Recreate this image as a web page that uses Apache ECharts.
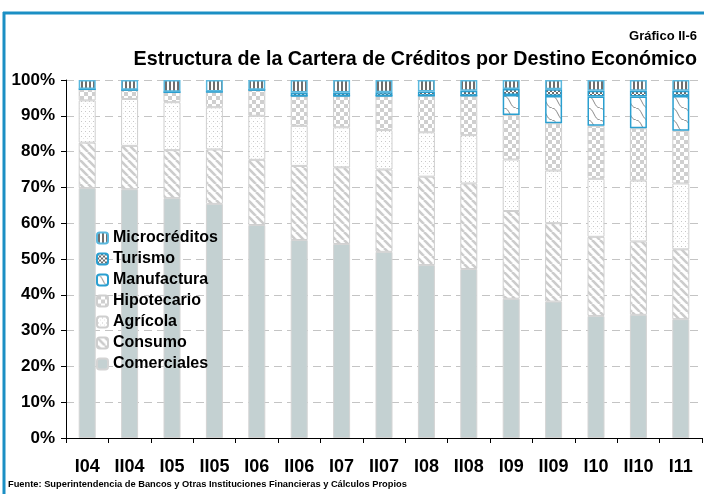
<!DOCTYPE html>
<html>
<head>
<meta charset="utf-8">
<script src="https://cdn.jsdelivr.net/npm/echarts@6/dist/echarts.min.js"></script>
<style>
  html, body { margin: 0; padding: 0; background: #ffffff; }
  #chart { width: 704px; height: 494px; }
</style>
</head>
<body>
<div id="chart"></div>
<script>
var periodos = ['I04', 'II04', 'I05', 'II05', 'I06', 'II06', 'I07', 'II07', 'I08', 'II08', 'I09', 'II09', 'I10', 'II10', 'I11'];
var yTicks = [0, 10, 20, 30, 40, 50, 60, 70, 80, 90, 100];

var comerciales   = [69.8, 69.5, 67.0, 65.4, 59.5, 55.3, 54.2, 52.0, 48.3, 47.2, 38.9, 38.1, 34.1, 34.4, 33.2];
var consumo       = [12.7, 12.1, 13.4, 15.2, 18.2, 20.7, 21.4, 23.0, 24.7, 23.9, 24.5, 21.9, 22.1, 20.5, 19.5];
var agricola      = [11.8, 13.1, 13.4, 11.8, 12.3, 11.2, 11.2, 11.0, 12.4, 13.5, 14.4, 14.7, 16.2, 17.0, 18.4];
var hipotecario   = [3.1, 2.5, 2.8, 4.3, 7.2, 8.3, 8.7, 9.5, 10.2, 11.0, 12.4, 13.2, 14.8, 14.6, 14.7];
var manufactura   = [0, 0, 0, 0, 0, 0, 0, 0, 0, 0, 5.6, 7.6, 8.2, 8.9, 9.7];
var turismo       = [0.1, 0.1, 0.1, 0.1, 0.1, 1.0, 1.0, 1.1, 1.2, 1.4, 1.7, 1.9, 1.6, 1.6, 1.5];
var microcreditos = [2.5, 2.7, 3.3, 3.2, 2.7, 3.5, 3.5, 3.4, 3.2, 3.0, 2.5, 2.6, 3.0, 3.0, 3.0];

// patrones de relleno
function patron(w, h, dibujar) {
    var c = document.createElement('canvas');
    c.width = w; c.height = h;
    var ctx = c.getContext('2d');
    ctx.fillStyle = '#ffffff';
    ctx.fillRect(0, 0, w, h);
    dibujar(ctx);
    return { image: c, repeat: 'repeat' };
}

var pConsumo = patron(8, 8, function (ctx) {
    ctx.strokeStyle = '#cccccc';
    ctx.lineWidth = 2.6;
    for (var i = -1; i <= 1; i++) {
        ctx.beginPath();
        ctx.moveTo(i * 8, 0);
        ctx.lineTo(i * 8 + 8, 8);
        ctx.stroke();
    }
});
var pAgricola = patron(4, 5, function (ctx) {
    ctx.fillStyle = '#c8c8c8';
    ctx.fillRect(1, 1, 1, 1);
    ctx.fillStyle = '#e6e6e6';
    ctx.fillRect(3, 3, 1, 1);
});
var pHipotecario = patron(8, 8, function (ctx) {
    ctx.fillStyle = '#cfcfcf';
    ctx.fillRect(0, 0, 4, 4);
    ctx.fillRect(4, 4, 4, 4);
});
var pManufactura = patron(12, 12, function (ctx) {
    ctx.strokeStyle = '#8a8a8a';
    ctx.lineWidth = 1;
    for (var i = -1; i <= 1; i++) {
        ctx.beginPath();
        ctx.moveTo(i * 12, 0);
        ctx.bezierCurveTo(i * 12 + 6, 0, i * 12 + 6, 12, i * 12 + 12, 12);
        ctx.stroke();
    }
});
var pTurismo = patron(4, 4, function (ctx) {
    ctx.fillStyle = '#6a6a6a';
    ctx.fillRect(0, 0, 2, 2);
    ctx.fillRect(2, 2, 2, 2);
});
var pMicro = patron(4, 4, function (ctx) {
    ctx.fillStyle = '#6e6e6e';
    ctx.fillRect(1, 0, 2, 4);
});

var gris = '#cfcfcf';
var azul = '#2a9fd0';

function serie(nombre, datos, relleno, borde, ancho) {
    return {
        name: nombre,
        type: 'bar',
        stack: 'total',
        barWidth: 17,
        data: datos,
        itemStyle: { color: relleno, borderColor: borde, borderWidth: ancho },
        emphasis: { disabled: true }
    };
}

var myChart = echarts.init(document.getElementById('chart'));

var fuente = 'Liberation Sans, Arial, sans-serif';
var fuenteEstrecha = 'Liberation Sans Narrow, Arial Narrow, Liberation Sans, sans-serif';

var options = {
    animation: false,
    backgroundColor: '#ffffff',
    textStyle: { fontFamily: fuente },
    title: [{
        text: 'Gráfico II-6',
        right: 7, top: 30, padding: 0,
        textStyle: { fontSize: 13, fontWeight: 'bold', color: '#000', fontFamily: fuente }
    }, {
        text: 'Estructura de la Cartera de Créditos por Destino Económico',
        right: 7, top: 50, padding: 0,
        textStyle: { fontSize: 19.7, fontWeight: 'bold', color: '#000', fontFamily: fuente }
    }],
    legend: {
        orient: 'vertical',
        left: 96, top: 230,
        padding: 0,
        itemWidth: 11, itemHeight: 11,
        itemGap: 5,
        selectedMode: false,
        data: ['Microcréditos', 'Turismo', 'Manufactura', 'Hipotecario', 'Agrícola', 'Consumo', 'Comerciales'],
        textStyle: { fontSize: 16, fontWeight: 'bold', color: '#000', lineHeight: 16, padding: [0, 0, 0, 0], fontFamily: fuente }
    },
    grid: { left: 66, right: 2, top: 80, bottom: 56, containLabel: false },
    xAxis: {
        type: 'category',
        data: periodos,
        axisLine: { lineStyle: { color: '#000', width: 1 } },
        axisTick: { show: true, length: 5, lineStyle: { color: '#000' } },
        axisLabel: { margin: 20, fontSize: 18, fontWeight: 'bold', color: '#000', fontFamily: fuenteEstrecha }
    },
    yAxis: {
        type: 'value',
        min: yTicks[0], max: yTicks[yTicks.length - 1], interval: 10,
        axisLine: { show: true, lineStyle: { color: '#000', width: 1 } },
        axisTick: { show: true, length: 5, lineStyle: { color: '#000' } },
        axisLabel: { margin: 11, fontSize: 17, fontWeight: 'bold', color: '#000', formatter: '{value}%', fontFamily: fuente },
        splitLine: { show: true, lineStyle: { color: '#c4c4c4', type: [8, 5], width: 1 } }
    },
    series: [
        serie('Comerciales', comerciales, '#c4d1d2', '#d4d4d4', 1),
        serie('Consumo', consumo, pConsumo, gris, 1),
        serie('Agrícola', agricola, pAgricola, gris, 1),
        serie('Hipotecario', hipotecario, pHipotecario, gris, 1),
        serie('Manufactura', manufactura, pManufactura, azul, 1.5),
        serie('Turismo', turismo, pTurismo, azul, 1.5),
        serie('Microcréditos', microcreditos, pMicro, '#5ab8de', 1.5)
    ],
    graphic: [
        { type: 'line', shape: { x1: 3, y1: 13, x2: 704, y2: 13 }, style: { stroke: '#1b8fc4', lineWidth: 3 } },
        { type: 'line', shape: { x1: 4, y1: 12, x2: 4, y2: 494 }, style: { stroke: '#1b8fc4', lineWidth: 3 } },
        {
            type: 'text', left: 8, top: 480,
            style: { text: 'Fuente: Superintendencia de Bancos y Otras Instituciones Financieras y Cálculos Propios', fontSize: 9.3, fontWeight: 'bold', fill: '#000', fontFamily: fuente }
        }
    ]
};

myChart.setOption(options);
</script>
</body>
</html>
